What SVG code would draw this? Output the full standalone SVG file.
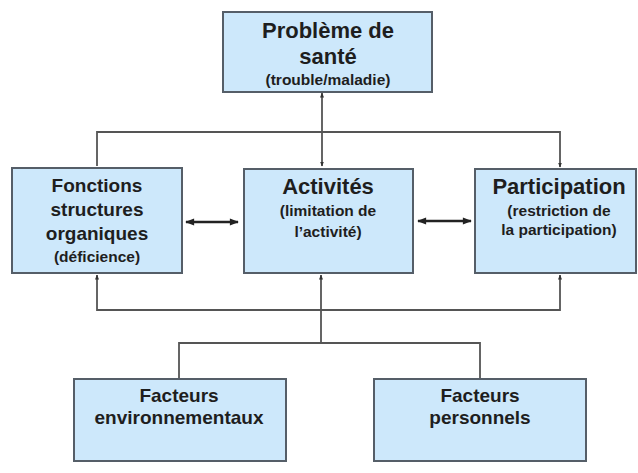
<svg xmlns="http://www.w3.org/2000/svg" width="638" height="473" viewBox="0 0 638 473">
<style>
.box{fill:#cde8fb;stroke:#555e68;stroke-width:2}
.t{font-family:"Liberation Sans",Arial,sans-serif;font-weight:bold;fill:#1e1e1e;text-anchor:middle}
.big{font-size:22px}
.mid{font-size:19px}
.sm{font-size:15.5px}
.ln{fill:none;stroke:#555;stroke-width:1.8}
.dbl{fill:none;stroke:#222;stroke-width:2.5}
</style>
<defs>
<marker id="a" viewBox="0 0 10 10" refX="9" refY="5" markerWidth="5" markerHeight="5" orient="auto-start-reverse" markerUnits="userSpaceOnUse"><path d="M0,1 L10,5 L0,9 z" fill="#333"/></marker>
<marker id="b" viewBox="0 0 10 10" refX="9" refY="5" markerWidth="11" markerHeight="9" orient="auto-start-reverse" markerUnits="userSpaceOnUse"><path d="M0,1 L10,5 L0,9 z" fill="#222"/></marker>
</defs>
<g id="connectors">
<path class="ln" d="M322,166 L322,93" marker-start="url(#a)" marker-end="url(#a)"/>
<path class="ln" d="M97,166 L97,132 L560,132 L560,167" marker-end="url(#a)"/>
<path class="ln" d="M97,275 L97,310 L560,310 L560,275" marker-start="url(#a)" marker-end="url(#a)"/>
<path class="ln" d="M321,310 L321,275" marker-end="url(#a)"/>
<path class="ln" d="M321,310 L321,343 M179,379 L179,343 L480,343 L480,379"/>
<path class="dbl" d="M186,222 L238,222" marker-start="url(#b)" marker-end="url(#b)"/>
<path class="dbl" d="M418,221 L471,221" marker-start="url(#b)" marker-end="url(#b)"/>
</g>
<g id="probleme">
<rect class="box" x="223" y="12" width="209" height="80"/>
<text class="t big" x="328" y="38">Problème de</text>
<text class="t big" x="328" y="64">santé</text>
<text class="t sm" x="328" y="85">(trouble/maladie)</text>
</g>
<g id="fonctions">
<rect class="box" x="12" y="168" width="170" height="105"/>
<text class="t mid" x="97" y="192">Fonctions</text>
<text class="t mid" x="97" y="216">structures</text>
<text class="t mid" x="97" y="240">organiques</text>
<text class="t sm" x="97" y="262">(déficience)</text>
</g>
<g id="activites">
<rect class="box" x="244" y="169" width="169" height="104"/>
<text class="t big" x="328" y="194">Activités</text>
<text class="t sm" x="328" y="216">(limitation de</text>
<text class="t sm" x="328" y="237">l’activité)</text>
</g>
<g id="participation">
<rect class="box" x="475" y="169" width="161" height="104"/>
<text class="t big" x="559" y="194">Participation</text>
<text class="t sm" x="559" y="216">(restriction de</text>
<text class="t sm" x="559" y="235">la participation)</text>
</g>
<g id="environnementaux">
<rect class="box" x="74" y="379" width="212" height="82"/>
<text class="t mid" x="179" y="402">Facteurs</text>
<text class="t mid" x="179" y="424">environnementaux</text>
</g>
<g id="personnels">
<rect class="box" x="374" y="379" width="212" height="82"/>
<text class="t mid" x="480" y="402">Facteurs</text>
<text class="t mid" x="480" y="424">personnels</text>
</g>
</svg>
